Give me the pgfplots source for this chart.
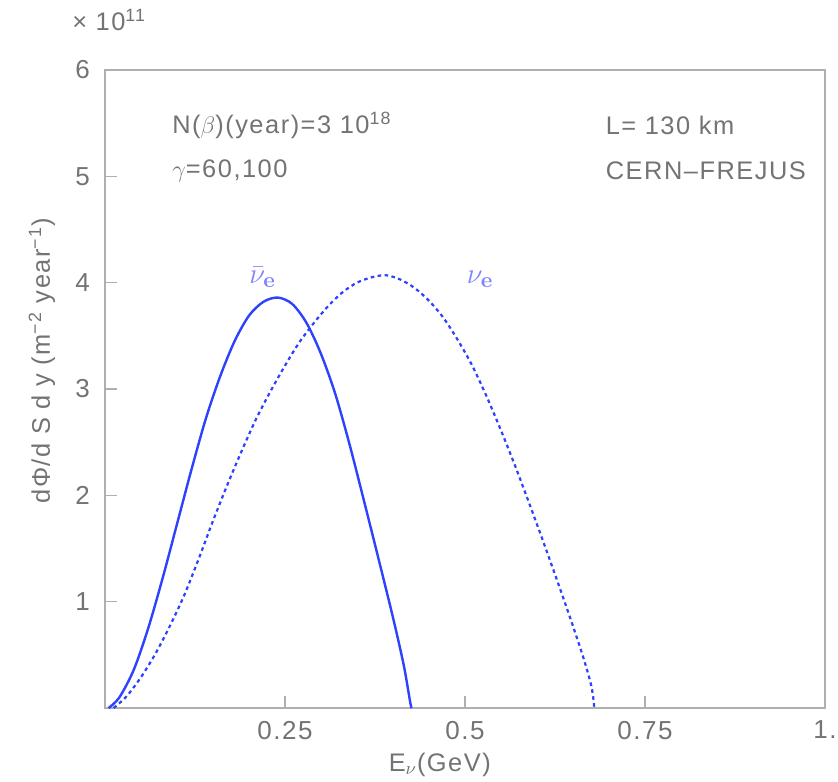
\documentclass[border=0pt]{standalone}
\usepackage[no-math]{fontspec}
\setmainfont{Liberation Sans}[LetterSpace=6]
\usepackage{pgfplots}
\pgfplotsset{compat=1.18}
\definecolor{txtgray}{RGB}{115,115,115}
\definecolor{axgray}{RGB}{175,175,175}
\definecolor{curveblue}{RGB}{45,65,255}
\definecolor{lblblue}{RGB}{125,130,255}
\begin{document}
\begin{tikzpicture}[font=\fontsize{12.7}{15}\selectfont]
\useasboundingbox (0,0) rectangle (419pt,390.5pt);
\begin{axis}[
  at={(52.5pt,36.5pt)}, anchor=south west,
  scale only axis, width=360pt, height=319pt,
  xmin=0, xmax=1, ymin=0, ymax=6,
  xtick={0.25,0.5,0.75,1}, xticklabels={0.25,0.5,0.75,1.},
  ytick={1,2,3,4,5,6},
  tick align=inside,
  xtick pos=bottom, ytick pos=left,
  major tick length=6pt,
  axis line style={draw=axgray, line width=0.8pt},
  every tick/.style={draw=axgray, line width=0.8pt},
  tick label style={text=txtgray, font=\fontsize{13}{15}\selectfont},
  /pgf/number format/assume math mode=true,
  yticklabel style={xshift=-4pt},
  xticklabel style={yshift=-3pt},
  clip=false,
]
\addplot[curveblue, line width=1.2pt, smooth] coordinates {
(0.005,0) (0.02,0.10) (0.04,0.36) (0.06,0.75) (0.08,1.22) (0.10,1.73)
(0.12,2.24) (0.14,2.72) (0.16,3.12) (0.18,3.45) (0.20,3.69) (0.22,3.82)
(0.24,3.86) (0.26,3.80) (0.28,3.62) (0.30,3.33) (0.32,2.95) (0.34,2.47)
(0.36,1.94) (0.38,1.40) (0.40,0.85) (0.415,0.40) (0.424,0.05) (0.426,0)
};
\addplot[curveblue, line width=1.1pt, dash pattern=on 1.8pt off 1.7pt, smooth] coordinates {
(0.012,0) (0.03,0.11) (0.05,0.29) (0.07,0.51) (0.09,0.77) (0.11,1.06)
(0.13,1.40) (0.15,1.76) (0.17,2.10) (0.19,2.42) (0.21,2.72) (0.23,2.98)
(0.25,3.22) (0.27,3.44) (0.29,3.62) (0.31,3.78) (0.33,3.91) (0.35,4.00)
(0.37,4.05) (0.39,4.07) (0.41,4.03) (0.43,3.95) (0.45,3.83) (0.47,3.67)
(0.49,3.46) (0.51,3.22) (0.53,2.93) (0.55,2.61) (0.57,2.27) (0.59,1.91)
(0.61,1.54) (0.63,1.16) (0.65,0.77) (0.665,0.46) (0.675,0.22) (0.679,0.05) (0.679,0)
};
\node[text=lblblue, font=\fontsize{15}{17}\selectfont] at (axis cs:0.219,4.05) {$\bar{\nu}_{\mathbf{e}}$};
\node[text=lblblue, font=\fontsize{15}{17}\selectfont] at (axis cs:0.521,4.03) {$\nu_{\mathbf{e}}$};
\node[text=txtgray, anchor=west, inner sep=0pt] at (axis cs:0.093,5.48) {N($\beta$)(year)=3 10\textsuperscript{18}};
\node[text=txtgray, anchor=west, inner sep=0pt] at (axis cs:0.093,5.05) {$\gamma$=60,100};
\node[text=txtgray, anchor=west, inner sep=0pt] at (axis cs:0.695,5.48) {L= 130 km};
\node[text=txtgray, anchor=west, inner sep=0pt] at (axis cs:0.695,5.05) {CERN–FREJUS};
\node[text=txtgray, anchor=west, inner sep=0pt] at (rel axis cs:-0.046,1.078) {× 10\textsuperscript{11}};
\node[text=txtgray, rotate=90, inner sep=0pt] at (rel axis cs:-0.0875,0.544) {dΦ/d S d y (m\textsuperscript{−2} year\textsuperscript{−1})};
\node[text=txtgray, inner sep=0pt] at (rel axis cs:0.465,-0.089) {E$_{\nu}$(GeV)};
\end{axis}
\end{tikzpicture}
\end{document}
